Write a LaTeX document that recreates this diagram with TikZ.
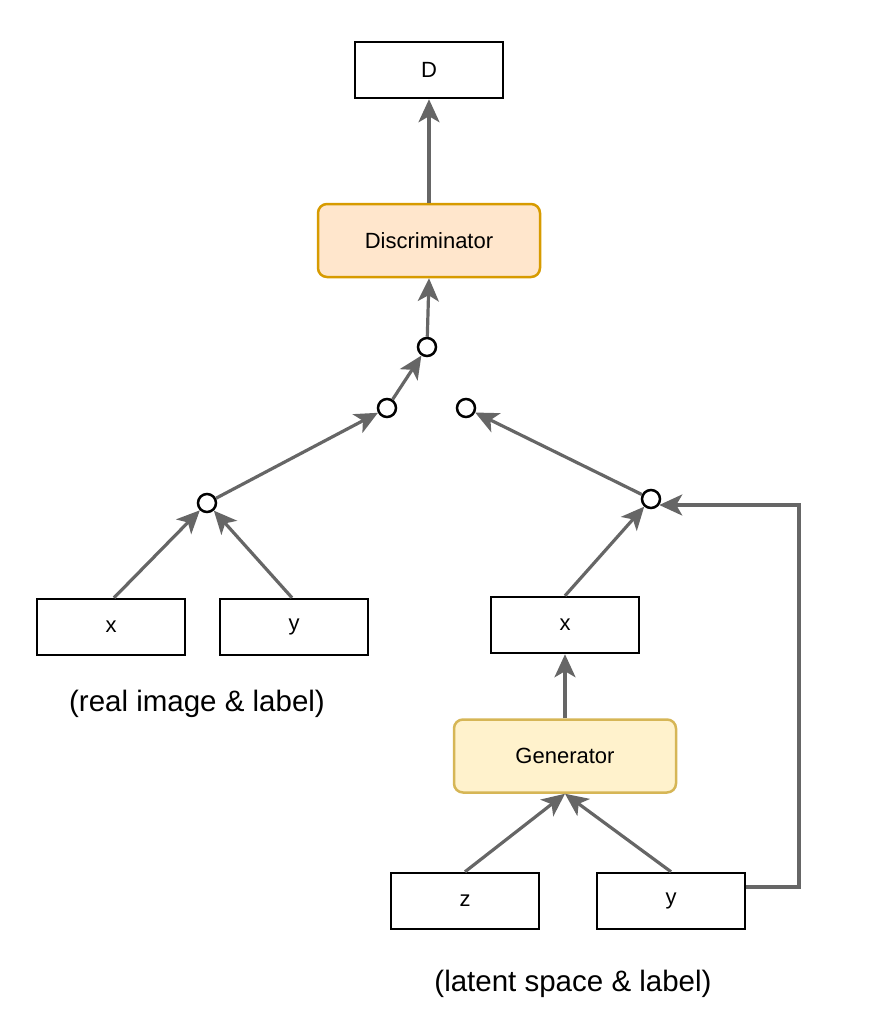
\documentclass[tikz,border=0pt]{standalone}
\usepackage{fontspec}
\setmainfont{Liberation Sans}
\usetikzlibrary{arrows.meta}
\definecolor{lineg}{HTML}{666666}
\definecolor{discf}{HTML}{FFE6CC}
\definecolor{discd}{HTML}{D79B00}
\definecolor{genf}{HTML}{FFF2CC}
\definecolor{gend}{HTML}{D6B656}
\begin{document}
\begin{tikzpicture}[x=1pt,y=-1pt,
  box/.style={draw=black,line width=2.5pt,minimum width=148pt,minimum height=56pt,inner sep=0pt,font=\fontsize{22}{26}\selectfont},
  rbox/.style={rounded corners=9pt,line width=2.5pt,minimum width=222pt,minimum height=73pt,inner sep=0pt,font=\fontsize{22}{26}\selectfont},
  dot/.style={circle,draw=black,fill=white,line width=2.5pt,minimum size=18pt,inner sep=0pt},
  conn/.style={draw=lineg,line width=3.2pt,-{Stealth[length=23pt,width=21pt,inset=6pt]}},
  lbl/.style={font=\fontsize{29.5}{34}\selectfont}]
\useasboundingbox (0,0) rectangle (872,1012);
\node[box] (D) at (429,70) {D};
\node[rbox,fill=discf,draw=discd] (disc) at (429,240.5) {Discriminator};
\node[dot] (c1) at (427,347) {};
\node[dot] (c2) at (387,408) {};
\node[dot] (c3) at (466,408) {};
\node[dot] (c4) at (207,503) {};
\node[dot] (c5) at (651,499) {};
\node[box] (xl) at (111,627) {x};
\node[box] (yl) at (294,627) {y};
\node[box] (xr) at (565,625) {x};
\node[rbox,fill=genf,draw=gend] (gen) at (565,756) {Generator};
\node[box] (z) at (465,901) {z};
\node[box] (yr) at (671,901) {y};
\node[lbl] (l1) at (197,704) {(real image \& label)};
\node[lbl] (l2) at (573,984) {(latent space \& label)};
\coordinate (k1) at (799,887);
\coordinate (k2) at (799,505);
\draw[conn] (disc.north) -- (D.south);
\draw[conn] (c1) -- (disc.south);
\draw[conn] (c2) -- (c1);
\draw[conn] (c4) -- (c2);
\draw[conn] (c5) -- (c3);
\draw[conn] ([xshift=3pt]xl.north) -- (c4);
\draw[conn] ([xshift=-2pt]yl.north) -- (c4);
\draw[conn] (xr.north) -- (c5);
\draw[conn] (gen.north) -- (xr.south);
\draw[conn] (z.north) -- (gen.south);
\draw[conn] (yr.north) -- (gen.south);
\draw[conn] (yr.east |- k1) -- (k1) -- (k2) -- ([xshift=-2pt]c5.east |- k2);
\end{tikzpicture}
\end{document}
